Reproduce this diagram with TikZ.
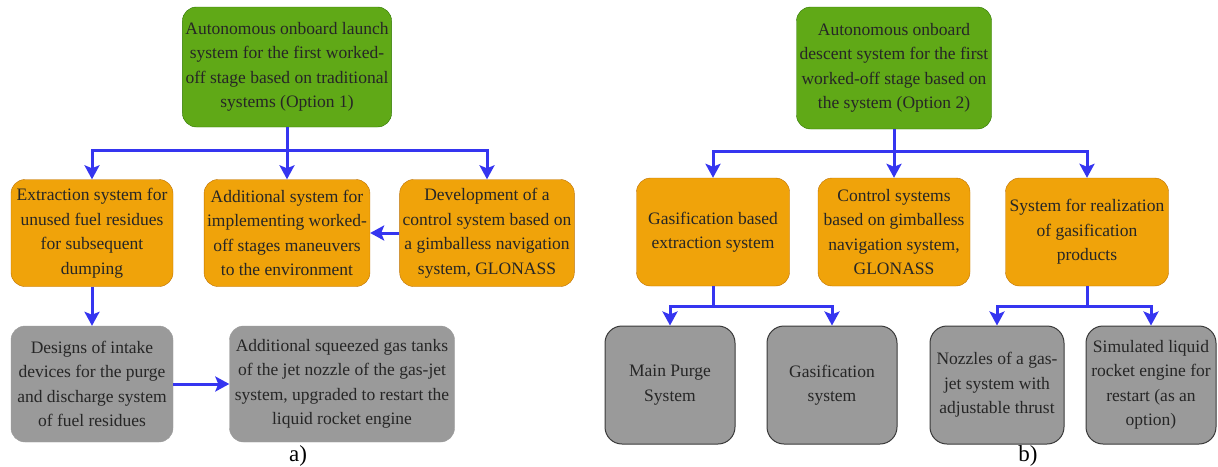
\documentclass[tikz,border=0pt]{standalone}
\usepackage{fontspec}
\setmainfont{Liberation Serif}
\newfontfamily\diagramfont{Liberation Serif}
\usetikzlibrary{arrows.meta}

\definecolor{launchgreen}{HTML}{60A917}
\definecolor{launchgreenedge}{HTML}{2D7600}
\definecolor{subsysorange}{HTML}{F0A30A}
\definecolor{subsysorangeedge}{HTML}{BD7000}
\definecolor{partgrey}{HTML}{9A9A9A}
\definecolor{partgreyedge}{HTML}{3A3A3A}
\definecolor{linkblue}{HTML}{3535F0}

\tikzset{
    box/.style={rounded corners=14pt, align=center, inner sep=3pt, text=black!85,
                font=\diagramfont\fontsize{17.5}{24.5}\selectfont},
    greenbox/.style={box, fill=launchgreen, draw=launchgreenedge},
    orangebox/.style={box, fill=subsysorange, draw=subsysorangeedge},
    greybox/.style={box, fill=partgrey, draw=partgrey},
    greyboxedge/.style={box, fill=partgrey, draw=partgreyedge, line width=1pt, rounded corners=17pt},
    link/.style={draw=linkblue, line width=3pt,
                 -{Stealth[length=14pt, width=15pt, inset=3pt]}},
    caption/.style={font=\diagramfont\fontsize{23}{25}\selectfont}
}

\begin{document}
\begin{tikzpicture}[x=1pt, y=-1pt]
    % Canvas
    \useasboundingbox (0,0) rectangle (1218,466);

    % a) Option 1
    \node[greenbox, minimum width=207pt, minimum height=120pt] (launch) at (287,67)
        {Autonomous onboard launch\\system for the first worked-\\off stage based on traditional\\systems (Option 1)};
    \node[orangebox, minimum width=162pt, minimum height=107pt] (extract) at (92,233)
        {Extraction system for\\unused fuel residues\\for subsequent\\dumping};
    \node[orangebox, minimum width=162pt, minimum height=107pt] (manoeuvre) at (287,233)
        {Additional system for\\implementing worked-\\off stages maneuvers\\to the environment};
    \node[orangebox, minimum width=174pt, minimum height=107pt] (control) at (487,233)
        {Development of a\\control system based on\\a gimballess navigation\\system, GLONASS};
    \node[greybox, minimum width=162pt, minimum height=116pt] (intake) at (92,384)
        {Designs of intake\\devices for the purge\\and discharge system\\of fuel residues};
    \node[greybox, minimum width=225pt, minimum height=116pt] (tanks) at (342,384)
        {Additional squeezed gas tanks\\of the jet nozzle of the gas-jet\\system, upgraded to restart the\\liquid rocket engine};
    \node[caption] (capa) at (298,456) {a)};

    % b) Option 2
    \node[greenbox, minimum width=195pt, minimum height=122pt] (descent) at (894,68)
        {Autonomous onboard\\descent system for the first\\worked-off stage based on\\the system (Option 2)};
    \node[orangebox, minimum width=153pt, minimum height=108pt] (gasextract) at (713,232)
        {Gasification based\\extraction system};
    \node[orangebox, minimum width=152pt, minimum height=108pt] (gimbal) at (894,232)
        {Control systems\\based on gimballess\\navigation system,\\GLONASS};
    \node[orangebox, minimum width=163pt, minimum height=108pt] (realize) at (1087,232)
        {System for realization\\of gasification\\products};
    \node[greyboxedge, minimum width=130pt, minimum height=118pt] (purge) at (670,385)
        {Main Purge\\System};
    \node[greyboxedge, minimum width=130pt, minimum height=118pt] (gasif) at (832,385)
        {Gasification\\system};
    \node[greyboxedge, minimum width=134pt, minimum height=118pt] (nozzles) at (997,385)
        {Nozzles of a gas-\\jet system with\\adjustable thrust};
    \node[greyboxedge, minimum width=130pt, minimum height=118pt] (restart) at (1151,385)
        {Simulated liquid\\rocket engine for\\restart (as an\\option)};
    \node[caption] (capb) at (1028,456) {b)};

    % Branch levels
    \coordinate (barA) at (287,150);
    \coordinate (barB) at (894,151);
    \coordinate (barC) at (713,306);
    \coordinate (barD) at (1087,306);

    % Connectors
    \foreach \t in {extract,manoeuvre,control}
        \draw[link] (launch.south) |- (barA -| \t) -- (\t.north);
    \draw[link] (control.west) -- (manoeuvre.east);
    \draw[link] (extract.south) -- (intake.north);
    \draw[link] (intake.east) -- (tanks.west);

    \foreach \t in {gasextract,gimbal,realize}
        \draw[link] (descent.south) |- (barB -| \t) -- (\t.north);
    \foreach \t in {purge,gasif}
        \draw[link] (gasextract.south) |- (barC -| \t) -- (\t.north);
    \foreach \t in {nozzles,restart}
        \draw[link] (realize.south) |- (barD -| \t) -- (\t.north);
\end{tikzpicture}
\end{document}
